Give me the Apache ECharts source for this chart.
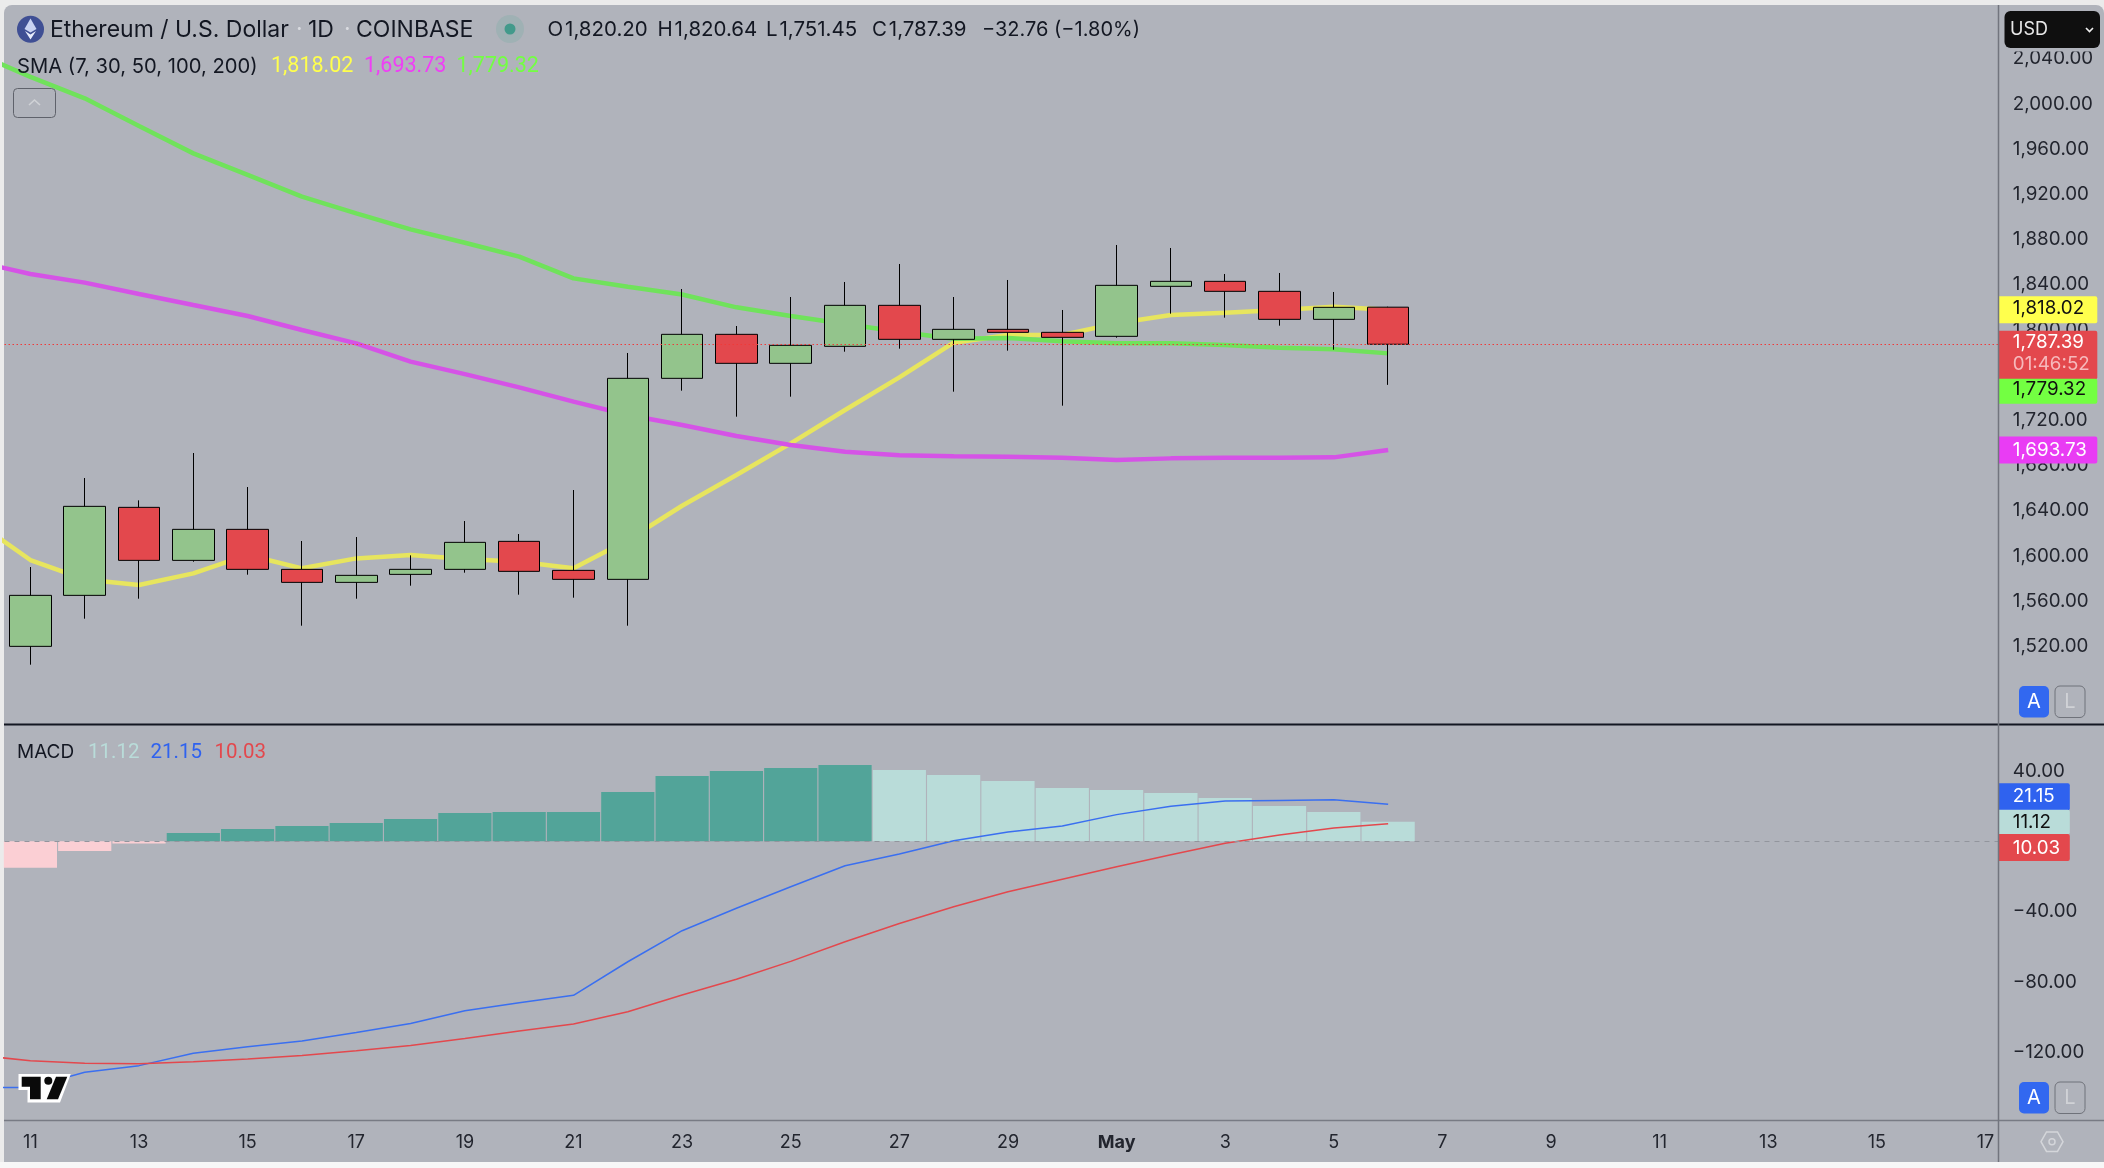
<!DOCTYPE html>
<html><head><meta charset="utf-8">
<style>
html,body{margin:0;padding:0;width:2104px;height:1168px;overflow:hidden;background:#ebebeb}
#bottom{position:absolute;left:0;top:1162px;width:2104px;height:6px;background:#f7f7f7}
#panel{position:absolute;left:4px;top:5px;width:2100px;height:1157px;background:#b0b3bb;border-radius:8px 8px 0 0}
#chart{position:absolute;left:0;top:0;width:2104px;height:1168px}
</style></head><body>
<div id="bottom"></div><div id="panel"></div><div id="chart"></div>
<script src="https://cdn.jsdelivr.net/npm/echarts@6/dist/echarts.min.js"></script>
<script>
// ---- Data: day index 0 = Apr 11 ----
const dayLabels = ['11','13','15','17','19','21','23','25','27','29','May','3','5','7','9','11','13','15','17'];
const priceTicks = [1520,1560,1600,1640,1680,1720,1800,1840,1880,1920,1960,2000,2040];
const macdTicks = [40,-40,-80,-120];
// open, close, low, high
const opens  = [1520.05,1565.18,1643.06,1596.15,1623.59,1588.19,1576.68,1583.76,1588.19,1612.97,1587.30,1579.34,1757.23,1796.16,1770.50,1785.54,1821.83,1791.74,1800.59,1797.93,1794.40,1838.65,1843.07,1834.22,1809.44,1820.20];
const closes = [1565.18,1643.95,1596.15,1623.59,1588.19,1576.68,1582.88,1588.19,1612.08,1586.42,1579.34,1757.23,1796.16,1770.50,1786.43,1821.83,1791.74,1800.59,1797.93,1793.51,1839.53,1843.07,1834.22,1809.44,1820.06,1787.39];
const lows   = [1503.82,1544.53,1562.23,1594.97,1583.47,1538.33,1562.23,1573.73,1585.24,1565.77,1563.11,1538.33,1746.30,1723.30,1741.00,1780.80,1783.48,1745.42,1781.71,1733.03,1793.20,1814.45,1810.91,1803.83,1782.59,1751.45];
const highs  = [1590.25,1669.02,1649.25,1691.15,1661.05,1613.27,1616.80,1600.58,1630.96,1619.46,1658.40,1779.65,1836.28,1803.54,1829.20,1842.48,1858.41,1829.20,1844.25,1817.70,1875.22,1872.57,1849.56,1850.45,1833.63,1820.64];
// moving averages, first value belongs to the day before the first candle (day -1)
const smaYellow  = [1630.4,1596.45,1579.3,1574.3,1584.65,1600.9,1589.1,1597.9,1600.9,1597.3,1595.0,1589.1,1614.15,1644.5,1671.7,1699.7,1729.2,1758.1,1788.8,1795.6,1795.6,1805.9,1813.3,1815.3,1817.7,1820.6,1818.02];
const smaMagenta = [1860.5,1849.5,1841.9,1831.9,1822.1,1812.4,1800,1788.2,1772,1761,1749.2,1736.6,1724.8,1715.9,1706.2,1698.2,1692.3,1689.1,1688.2,1687.9,1687,1685,1686.4,1687,1687,1687.3,1693.73];
const smaGreen   = [2045,2024,2005.0,1980.5,1956.3,1937.2,1918.0,1903.2,1889.1,1877.2,1864.9,1845.7,1838.3,1831.4,1820.06,1812.4,1805.3,1798.5,1792.3,1792.9,1790,1788.2,1788.2,1786.7,1784.4,1782.9,1779.32];
const macdHist   = [-15.0,-5.5,-1.3,4.7,7.0,8.7,10.4,12.7,16.1,16.7,16.7,28.1,37.2,40.0,41.7,43.4,40.6,37.7,34.3,30.3,29.2,27.5,24.7,20.1,16.7,11.12];
const macdLine   = [-140,-139.97,-131.4,-127.6,-120.6,-116.8,-113.6,-108.7,-103.6,-96.4,-91.8,-87.6,-68.5,-50.85,-38.1,-25.8,-13.9,-7.2,0.36,5.3,8.7,15.2,19.9,22.9,23.3,23.7,21.15];
const signalLine = [-121.6,-124.8,-126.3,-126.5,-125.4,-123.8,-121.8,-119.1,-116.1,-112.1,-107.9,-103.9,-96.9,-87.45,-78.5,-68.3,-57.1,-46.7,-37.2,-28.7,-21.6,-14.4,-7.6,-1.1,3.6,7.6,10.03];
const priceTags = [1818.02,1787.39,1779.32,1693.73];
const macdTags = [21.15,11.12,10.03];
const ohlcText = [['O','1,820.20',547.5],['H','1,820.64',657.5],['L','1,751.45',766],['C','1,787.39',872]];
const changeText = '\u221232.76 (\u22121.80%)';
const countdown = '01:46:52';
const titleText = 'Ethereum / U.S. Dollar';

// ---- Styling ----
const FF = 'Inter, sans-serif';
const FN = 'Roboto, sans-serif';
const TXT = '#22252e';
const COL = {yellow:'#e7e55e', magenta:'#d553e6', green:'#70e25b', up:'#93c48c', down:'#e3484d',
  blue:'#3a6ff0', red:'#e3484d', teal:'#52a499', mint:'#b9dcd9', pink:'#fbcfd4'};
const xMin=-0.477, xMax=36.235;
const fmt = v => v.toLocaleString('en-US',{minimumFractionDigits:2,maximumFractionDigits:2}).replace('-','\u2212');

const candleData = opens.map((o,i)=>[i,o,closes[i],lows[i],highs[i]]);
const withDay = arr => arr.map((v,i)=>[i-1,v]);
const histData = macdHist.map((v,i)=>({value:[i,v],itemStyle:{color: v<0?COL.pink:(i===0||v>=macdHist[i-1]?COL.teal:COL.mint)}}));

// tag look: box top/height and text centres are pixel offsets from the value's own pixel
const priceTagLook = [
 {bg:'#ffff4d',fg:'#101010',top:-13.5,h:27,text:[-1]},
 {bg:'#e3484d',fg:'#ffffff',top:-13.5,h:48.5,text:[-1.5],sub:20},
 {bg:'#73ff42',fg:'#101010',top:25.5,h:25,text:[36]},
 {bg:'#e93cf4',fg:'#ffffff',top:-13.5,h:27,text:[0]}];
const macdTagLook = [
 {bg:'#2f62ef',fg:'#ffffff',top:-21,h:27,text:[-7.8]},
 {bg:'#b9dcd9',fg:'#101010',top:-12,h:24.5,text:[1]},
 {bg:'#e3484d',fg:'#ffffff',top:10.2,h:27.2,text:[24.5]}];
const TAGFONT='18.8px '+FF;
function tagRenderer(looks,values,w){
  return function(params,api){
    const i=params.dataIndex, L=looks[i];
    const pt=api.coord([xMax,values[i]]);
    const x=pt[0]+0.5, y=pt[1];
    const ch=[{type:'rect',shape:{x:x,y:y+L.top,width:w,height:L.h,r:[0,2,2,0]},style:{fill:L.bg}},
      {type:'text',style:{x:x+14,y:y+L.text[0],text:fmt(values[i]),fill:L.fg,font:TAGFONT,verticalAlign:'middle',align:'left'}}];
    if(L.sub) ch.push({type:'text',style:{x:x+14,y:y+L.sub,text:countdown,fill:'#f6b9bc',font:TAGFONT,verticalAlign:'middle',align:'left'}});
    return {type:'group',children:ch};
  };
}

// ---- Page furniture ----
const Z=100;
function txt(x,y,text,fill,size,fam){return {type:'text',x:x,y:y,z:Z,silent:true,style:{text:text,fill:fill,font:(size||20)+'px '+(fam||FF),verticalAlign:'middle',align:'left'}};}
function rect(x,y,w,h,r,fill,stroke){return {type:'rect',z:Z,silent:true,shape:{x:x,y:y,width:w,height:h,r:r},style:{fill:fill||'transparent',stroke:stroke||null,lineWidth:stroke?1:0}};}
function seg(x1,y1,x2,y2,c,lw,z){return {type:'line',z:z||1,silent:true,shape:{x1,y1,x2,y2},style:{stroke:c,lineWidth:lw}};}
function poly(pts,fill,stroke,lw){return {type:'polygon',z:Z,silent:true,shape:{points:pts},style:{fill:fill,stroke:stroke||null,lineWidth:lw||0}};}
function pline(pts,c,lw){return {type:'polyline',z:Z,silent:true,shape:{points:pts},style:{stroke:c,lineWidth:lw,fill:null}};}
function circ(cx,cy,r,fill,stroke){return {type:'circle',z:Z,silent:true,shape:{cx,cy,r},style:{fill:fill||'transparent',stroke:stroke||null,lineWidth:stroke?1.5:0}};}
function ctext(x,y,t,c){return {type:'text',x:x,y:y,z:Z,silent:true,style:{text:t,fill:c,font:'20px '+FF,verticalAlign:'middle',align:'center'}};}
function abBtn(y){return [rect(2019,y,30,31.5,5,'#3268f0'),ctext(2034,y+16,'A','#ffffff'),
  rect(2055,y,30,31.5,5,null,'#6f727a'),ctext(2070,y+16,'L','#d0d2d6')];}

const furniture=[
 seg(4,724.5,2104,724.5,'#131722',2.2,Z-1),
 seg(4,1120.5,2104,1120.5,'#787b84',1.5,Z-1),
 seg(1998.5,5,1998.5,1162,'#72757e',1.5,Z-1),
 // symbol logo
 circ(30.5,29.3,13.5,'#3f4f94'),
 poly([[30.5,18.5],[36.5,29],[30.5,32.5],[24.5,29]],'#c9d2f2'),
 poly([[25,31],[30.5,34.5],[36,31],[30.5,39.5]],'#e8ecfb'),
 txt(50,30,titleText,'#131722',23),
 txt(296,29,'\u00b7','#d9dbe0',23),
 txt(308,30,'1D','#131722',23),
 txt(344,29,'\u00b7','#d9dbe0',23),
 txt(356,30,'COINBASE','#131722',23),
 circ(510,29,14,'#9fb1b4'),circ(510,29,5.5,'#429a8b'),
 ...ohlcText.map(r=>txt(r[2],30,r[0]+'\u200a'+r[1],'#131722',20.5)),
 txt(982,30,changeText,'#131722',20),
 txt(17,67,'SMA (7, 30, 50, 100, 200)','#131722',20.2),
 txt(271,67,fmt(priceTags[0]),'#ffff4d',21.5,FN),
 txt(364,67,fmt(priceTags[3]),'#ef3ff5',21.5,FN),
 txt(456.5,67,fmt(priceTags[2]),'#73ff42',21.5,FN),
 rect(13.5,88.5,42,29,4,null,'#5f626b'),
 pline([[29,105],[34.5,100],[40,105]],'#d0d2d6',1.6),
 txt(17,752.5,'MACD','#131722',19),
 txt(88,752.5,fmt(macdTags[1]),COL.mint,20.5,FN),
 txt(150.5,752.5,fmt(macdTags[0]),'#2f62ef',20.5,FN),
 txt(214.5,752.5,fmt(macdTags[2]),COL.red,20.5,FN),
 // USD button, with the clear band the price scale keeps beneath it
 rect(2000,46,104,5.5,0,'#b0b3bb'),
 rect(2004.5,11,95.5,37,6,'#0f0f0f'),
 txt(2010,29.5,'USD','#e8e8e8',18),
 pline([[2086,28],[2089.5,31.5],[2093,28]],'#f0f0f0',1.6),
 ...abBtn(686),...abBtn(1082),
 // settings icon
 poly([[2041,1141.7],[2046.5,1132],[2057.5,1132],[2063,1141.7],[2057.5,1151.4],[2046.5,1151.4]],'transparent','#d4d6da',1.5),
 circ(2052,1141.7,3,null,'#d4d6da'),
 // TV logo
 poly([[18.5,1074],[70.8,1074],[60,1102.5],[27.5,1102.5],[27.5,1090],[18.5,1090]],'#ffffff'),
 poly([[21.7,1076.7],[40.7,1076.7],[40.7,1099.3],[30,1099.3],[30,1086.7],[21.7,1086.7]],'#0a0a0a'),
 poly([[56,1076.7],[67.3,1076.7],[58,1099.3],[46.7,1099.3]],'#0a0a0a'),
 circ(48.3,1080.7,4,'#0a0a0a')
];

// ---- Chart ----
const chart=echarts.init(document.getElementById('chart'),null,{renderer:'canvas'});
chart.setOption({
 animation:false,
 backgroundColor:'transparent',
 textStyle:{fontFamily:FF},
 grid:[{left:4.5,top:5,width:1993.8,height:719.5},{left:4.5,top:725.5,width:1993.8,height:394.8}],
 xAxis:[
  {type:'value',gridIndex:0,min:xMin,max:xMax,splitLine:{show:false},axisLine:{show:false},axisTick:{show:false},axisLabel:{show:false}},
  {type:'value',gridIndex:1,min:xMin,max:xMax,splitLine:{show:false},axisLine:{show:false},axisTick:{show:false},
   axisLabel:{show:true,customValues:dayLabels.map((d,i)=>i*2),margin:13,color:TXT,fontSize:18,fontFamily:FF,hideOverlap:false,
    showMinLabel:true,showMaxLabel:true,
    formatter:v=>{const s=dayLabels[Math.round(v/2)];return s==='May'?'{b|May}':s;},
    rich:{b:{fontWeight:'bold',fontSize:18,fontFamily:FF,color:TXT}}}}
 ],
 yAxis:[
  {type:'value',gridIndex:0,position:'right',min:1450.9,max:2087.6,splitLine:{show:false},axisLine:{show:false},axisTick:{show:false},
   axisLabel:{customValues:priceTicks,margin:14.5,align:'left',color:TXT,fontSize:18.8,fontFamily:FF,formatter:fmt,padding:[0,0,4.5,0]}},
  {type:'value',gridIndex:1,position:'right',min:-158.7,max:65.9,splitLine:{show:false},axisLine:{show:false},axisTick:{show:false},
   axisLabel:{customValues:macdTicks,margin:14.5,align:'left',color:TXT,fontSize:18.8,fontFamily:FF,formatter:fmt,padding:[1.5,0,0,0]}}
 ],
 series:[
  {type:'line',name:'SMA 7',data:withDay(smaYellow),xAxisIndex:0,yAxisIndex:0,showSymbol:false,z:2,lineStyle:{color:COL.yellow,width:4.5}},
  {type:'line',name:'SMA 30',data:withDay(smaMagenta),xAxisIndex:0,yAxisIndex:0,showSymbol:false,z:2,lineStyle:{color:COL.magenta,width:4.5}},
  {type:'line',name:'SMA 50',data:withDay(smaGreen),xAxisIndex:0,yAxisIndex:0,showSymbol:false,z:2,lineStyle:{color:COL.green,width:4.5}},
  {type:'candlestick',name:'ETHUSD',data:candleData,xAxisIndex:0,yAxisIndex:0,z:3,barWidth:42,
   itemStyle:{color:COL.up,color0:COL.down,borderColor:'#000',borderColor0:'#000',borderWidth:1},
   markLine:{silent:true,symbol:'none',animation:false,label:{show:false},z:4,
    lineStyle:{color:'#f03a3a',type:[1.5,2.5],width:1},data:[{yAxis:closes[closes.length-1]}]}},
  {type:'bar',name:'Histogram',data:histData,xAxisIndex:1,yAxisIndex:1,barWidth:53.2,z:2,
   markLine:{silent:true,symbol:'none',animation:false,label:{show:false},
    lineStyle:{color:'#92959d',type:[5,5],width:1},data:[{yAxis:0}]}},
  {type:'line',name:'MACD',data:withDay(macdLine),xAxisIndex:1,yAxisIndex:1,showSymbol:false,z:3,lineStyle:{color:COL.blue,width:1.5}},
  {type:'line',name:'Signal',data:withDay(signalLine),xAxisIndex:1,yAxisIndex:1,showSymbol:false,z:3,lineStyle:{color:COL.red,width:1.5}},
  {type:'custom',name:'Price tags',coordinateSystem:'cartesian2d',xAxisIndex:0,yAxisIndex:0,z:10,silent:true,
   data:priceTags.map(v=>[xMax,v]),renderItem:tagRenderer(priceTagLook,priceTags,98.5)},
  {type:'custom',name:'MACD tags',coordinateSystem:'cartesian2d',xAxisIndex:1,yAxisIndex:1,z:10,silent:true,
   data:macdTags.map(v=>[xMax,v]),renderItem:tagRenderer(macdTagLook,macdTags,71)}
 ],
 graphic:{elements:furniture}
});
</script></body></html>
